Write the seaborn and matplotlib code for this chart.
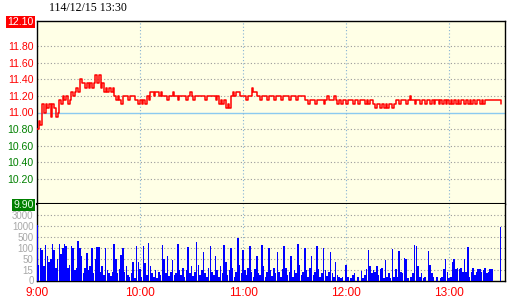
import numpy as np
import pandas as pd
import matplotlib
matplotlib.use("Agg")
import matplotlib.pyplot as plt
import seaborn as sns

title_text = "114/12/15 13:30"

# one value per trading minute, 9:00 (minute 0) .. 13:30 (minute 270)
price = [
    10.80, 10.90, 10.85, 11.10, 11.00, 11.10, 11.05, 11.10, 10.95, 11.10,
    11.05, 10.95, 11.00, 11.15, 11.10, 11.20, 11.15, 11.20, 11.10, 11.15,
    11.25, 11.20, 11.25, 11.30, 11.25, 11.40, 11.35, 11.35, 11.30, 11.35,
    11.30, 11.35, 11.30, 11.35, 11.45, 11.35, 11.45, 11.30, 11.35, 11.25,
    11.30, 11.25, 11.30, 11.25, 11.30, 11.20, 11.15, 11.20, 11.15, 11.10,
    11.20, 11.20, 11.20, 11.15, 11.20, 11.20, 11.20, 11.15, 11.15, 11.10,
    11.15, 11.10, 11.15, 11.10, 11.20, 11.15, 11.25, 11.25, 11.20, 11.25,
    11.25, 11.20, 11.25, 11.20, 11.20, 11.20, 11.15, 11.20, 11.20, 11.25,
    11.20, 11.20, 11.15, 11.20, 11.20, 11.20, 11.20, 11.15, 11.20, 11.25,
    11.20, 11.15, 11.20, 11.20, 11.20, 11.20, 11.20, 11.20, 11.15, 11.20,
    11.20, 11.20, 11.20, 11.20, 11.15, 11.20, 11.10, 11.15, 11.10, 11.15,
    11.05, 11.10, 11.05, 11.20, 11.25, 11.20, 11.25, 11.25, 11.20, 11.20,
    11.20, 11.20, 11.15, 11.20, 11.20, 11.30, 11.25, 11.25, 11.20, 11.20,
    11.15, 11.20, 11.20, 11.20, 11.15, 11.20, 11.20, 11.20, 11.15, 11.20,
    11.20, 11.20, 11.15, 11.20, 11.20, 11.20, 11.20, 11.15, 11.20, 11.20,
    11.20, 11.15, 11.20, 11.20, 11.20, 11.20, 11.15, 11.15, 11.10, 11.15,
    11.15, 11.15, 11.10, 11.15, 11.15, 11.15, 11.15, 11.10, 11.15, 11.20,
    11.15, 11.15, 11.15, 11.20, 11.15, 11.10, 11.15, 11.10, 11.15, 11.15,
    11.10, 11.15, 11.15, 11.15, 11.10, 11.15, 11.15, 11.10, 11.15, 11.15,
    11.15, 11.10, 11.15, 11.10, 11.15, 11.15, 11.10, 11.05, 11.10, 11.10,
    11.05, 11.10, 11.05, 11.10, 11.05, 11.10, 11.10, 11.05, 11.10, 11.15,
    11.15, 11.10, 11.15, 11.15, 11.15, 11.10, 11.15, 11.20, 11.15, 11.15,
    11.10, 11.15, 11.15, 11.10, 11.15, 11.15, 11.10, 11.15, 11.15, 11.10,
    11.15, 11.10, 11.15, 11.15, 11.10, 11.15, 11.10, 11.15, 11.10, 11.15,
    11.10, 11.15, 11.10, 11.15, 11.10, 11.15, 11.10, 11.15, 11.15, 11.10,
    11.15, 11.10, 11.15, 11.10, 11.15, 11.10, 11.15, 11.15, 11.10, 11.15,
    11.10, 11.15, 11.15, 11.15, 11.15, 11.15, 11.15, 11.15, 11.15, 11.15,
    11.10,
]

volume = [
    1200, 30, 100, 90, 25, 200, 60, 40, 50, 225,
    90, 20, 48, 250, 70, 100, 250, 160, 20, 30,
    160, 100, 15, 20, 350, 100, 60, 10, 20, 75,
    15, 25, 100, 10, 50, 110, 110, 12, 25, 8,
    100, 15, 10, 6, 12, 250, 50, 10, 18, 65,
    100, 12, 25, 8, 5, 10, 40, 3, 160, 40,
    18, 5, 160, 35, 8, 280, 25, 10, 5, 15,
    3, 12, 8, 200, 50, 10, 60, 6, 12, 45,
    8, 10, 225, 15, 8, 20, 5, 15, 120, 10,
    25, 6, 12, 300, 30, 8, 15, 80, 10, 5,
    20, 150, 12, 8, 60, 15, 5, 25, 10, 200,
    40, 8, 15, 100, 20, 5, 12, 450, 30, 10,
    90, 15, 8, 20, 150, 12, 5, 18, 60, 10,
    8, 200, 25, 5, 12, 100, 15, 6, 20, 10,
    80, 12, 5, 18, 150, 20, 8, 12, 60, 5,
    15, 10, 250, 30, 8, 12, 100, 15, 5, 20,
    60, 8, 12, 150, 18, 5, 10, 100, 15, 6,
    12, 80, 10, 5, 40, 8, 5, 3, 5, 0,
    30, 5, 0, 3, 8, 10, 0, 5, 0, 13,
    3, 8, 18, 90, 25, 10, 15, 12, 25, 8,
    17, 20, 3, 45, 5, 10, 3, 95, 5, 18,
    5, 85, 12, 10, 55, 50, 3, 0, 5, 10,
    200, 160, 25, 5, 10, 3, 5, 0, 85, 30,
    10, 5, 0, 5, 0, 3, 5, 18, 50, 12,
    3, 5, 40, 50, 18, 20, 18, 20, 12, 50,
    12, 110, 5, 12, 20, 8, 12, 18, 18, 12,
    15, 20, 10, 12, 18, 18, 0, 0, 0, 0,
    950,
]

price_ticks = [12.10, 11.80, 11.60, 11.40, 11.20, 11.00, 10.80, 10.60, 10.40, 10.20, 9.90]
price_labels = ["12.10", "11.80", "11.60", "11.40", "11.20", "11.00",
                "10.80", "10.60", "10.40", "10.20", "9.90"]
ref_price = 11.00
vol_ticks = [3000, 1000, 500, 100, 50, 15, 0]
vol_labels = ["3000", "1000", "500", "100", "50", "15", "0"]
vol_levels = [0, 15, 50, 100, 500, 1000, 3000, 5000]
hour_ticks = [0, 60, 120, 180, 240]
hour_labels = ["9:00", "10:00", "11:00", "12:00", "13:00"]

sns.set_theme(style="white")
plt.rcParams["font.family"] = ["Liberation Sans", "DejaVu Sans"]

BG = "#ffffe6"
GRID = "#9a9a9a"
VGRID = "#86b2d4"
REF = "#8ccaf0"
RED = "#ff0000"
GREEN = "#008000"
dots = (0, (1, 2))

W, H = 520, 300
fig = plt.figure(figsize=(W / 100, H / 100), dpi=100)
L, R = 37, 505
ax1 = fig.add_axes([L / W, 1 - 204 / H, (R - L) / W, (204 - 21) / H])
ax2 = fig.add_axes([L / W, 1 - 280.5 / H, (R - L) / W, (280.5 - 204) / H])
XMAX = 272.6

# ---------------- price panel ----------------
ax1.set_facecolor(BG)
df_p = pd.DataFrame({"minute": np.arange(len(price)), "price": price})
for p in price_ticks[1:-1]:
    if abs(p - ref_price) < 1e-9:
        ax1.axhline(p, color=REF, lw=1.0, zorder=1)
    else:
        ax1.axhline(p, color=GRID, lw=0.8, ls=dots, zorder=1)
for h in hour_ticks[1:]:
    ax1.axvline(h, color=VGRID, lw=0.8, ls=dots, zorder=1)
sns.lineplot(data=df_p, x="minute", y="price", ax=ax1, color=RED, lw=1.1,
             drawstyle="steps-post", zorder=3)
ax1.set_xlim(0, XMAX)
ax1.set_ylim(9.90, 12.10)
ax1.set_xticks([])
ax1.set_yticks(price_ticks)
ax1.set_yticklabels(price_labels)
ax1.tick_params(axis="y", length=0, pad=2.5, labelsize=7.6)
for lbl, p in zip(ax1.get_yticklabels(), price_ticks):
    if abs(p - 12.10) < 1e-9:
        lbl.set_color("white")
        lbl.set_bbox(dict(facecolor=RED, edgecolor="none", pad=0.8))
    elif abs(p - 9.90) < 1e-9:
        lbl.set_color("#e8ffe8")
        lbl.set_bbox(dict(facecolor=GREEN, edgecolor="none", pad=0.8))
    elif p >= ref_price - 1e-9:
        lbl.set_color(RED)
    else:
        lbl.set_color(GREEN)
ax1.set_xlabel("")
ax1.set_ylabel("")
for s in ["left", "top", "right"]:
    ax1.spines[s].set_color("black")
    ax1.spines[s].set_linewidth(1.0)
ax1.spines["bottom"].set_color("black")
ax1.spines["bottom"].set_linewidth(1.5)
ax1.spines["bottom"].set_zorder(5)

# ---------------- volume panel ----------------
ax2.set_facecolor(BG)
df_v = pd.DataFrame({"minute": np.arange(len(volume)), "volume": volume})
sns.barplot(data=df_v, x="minute", y="volume", ax=ax2, native_scale=True,
            color="#0000ff", saturation=1, width=0.9, errorbar=None,
            edgecolor="none", linewidth=0, zorder=3)
idx = np.arange(len(vol_levels), dtype=float)
lv = np.array(vol_levels, dtype=float)


def fwd(v):
    return np.interp(v, lv, idx)


def inv(y):
    return np.interp(y, idx, lv)


ax2.set_yscale("function", functions=(fwd, inv))
ax2.set_ylim(0, vol_levels[-1])
ax2.set_xlim(0, XMAX)
for v in vol_ticks:
    if v > 0:
        ax2.axhline(v, color=GRID, lw=0.8, ls=dots, zorder=1)
for h in hour_ticks[1:]:
    ax2.axvline(h, color=VGRID, lw=0.8, ls=dots, zorder=1)
ax2.set_yticks(vol_ticks)
ax2.set_yticklabels(vol_labels)
ax2.yaxis.set_minor_locator(matplotlib.ticker.NullLocator())
ax2.tick_params(axis="y", length=0, pad=2.5, labelsize=7, labelcolor="#a8a8a8")
ax2.set_xticks(hour_ticks)
ax2.set_xticklabels(hour_labels)
ax2.tick_params(axis="x", length=0, pad=5, labelsize=8.6, labelcolor=RED)
ax2.set_xlabel("")
ax2.set_ylabel("")
for s in ["left", "bottom", "right"]:
    ax2.spines[s].set_color("black")
    ax2.spines[s].set_linewidth(1.0)
ax2.spines["top"].set_visible(False)

fig.text(49 / W, 1 - 8 / H, title_text, fontsize=8.6, family=["Liberation Serif", "DejaVu Serif"],
         color="black", ha="left", va="center")

fig.savefig("out.png", dpi=100, facecolor="white")
